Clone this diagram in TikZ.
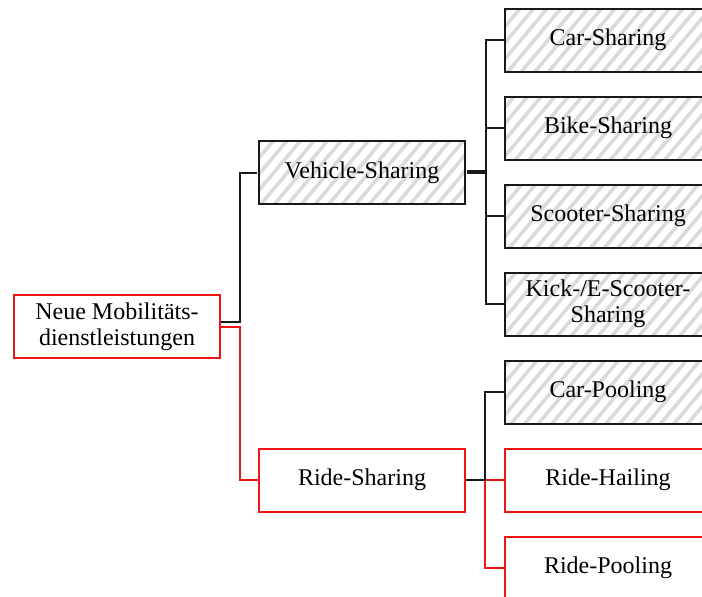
\documentclass[tikz,border=0pt]{standalone}
\usepackage{fontspec}
\setmainfont{Liberation Serif}
\usetikzlibrary{patterns.meta}
\definecolor{hatchgray}{RGB}{218,218,218}
\definecolor{redline}{RGB}{240,20,20}
\tikzset{
  box/.style={draw, line width=1pt, minimum width=103pt, minimum height=31.5pt,
    inner sep=1pt, align=center, font=\fontsize{12}{12.8}\selectfont},
  hatched/.style={box, draw=black!90,
    pattern={Lines[angle=50,distance=5.2pt,line width=1.8pt]}, pattern color=hatchgray},
  redbox/.style={box, draw=redline, fill=white},
  blackedge/.style={draw=black!90, line width=1pt},
  rededge/.style={draw=redline, line width=1pt},
}
\begin{document}
\begin{tikzpicture}[x=0.5pt,y=-0.5pt]
\useasboundingbox (0,0) rectangle (702,596);
\clip (0,0) rectangle (702,596);
\node[redbox] (root) at (117,326.5) {Neue Mobilitäts-\\dienstleistungen};
\node[hatched] (vs) at (362,172.5) {Vehicle-Sharing};
\node[redbox] (rs) at (362,480) {Ride-Sharing};
\node[hatched] (cs) at (608,40) {Car-Sharing};
\node[hatched] (bs) at (608,128) {Bike-Sharing};
\node[hatched] (ss) at (608,216) {Scooter-Sharing};
\node[hatched] (ks) at (608,304) {Kick-/E-Scooter-\\Sharing};
\node[hatched] (cp) at (608,392) {Car-Pooling};
\node[redbox] (rh) at (608,480) {Ride-Hailing};
\node[redbox] (rp) at (608,568) {Ride-Pooling};
% root edges
\draw[rededge] (root.east) -- ++(9.5pt,0) |- (rs.west);
\draw[blackedge] ([yshift=2.5pt]root.east) -- ++(9.5pt,0) |- (vs.west);
% vehicle sharing edges
\foreach \c in {cs,bs,ss,ks}{
  \draw[blackedge] (vs.east) -- ++(9.5pt,0) |- (\c.west);
}
\draw[blackedge] ([yshift=1pt]vs.east) -- ++(9.5pt,0);
% ride sharing edges
\draw[rededge] (rs.east) -- ++(9.5pt,0) |- (rh.west);
\draw[rededge] (rs.east) -- ++(9.5pt,0) |- (rp.west);
\draw[blackedge] (rs.east) -- ++(9.5pt,0) |- (cp.west);
\end{tikzpicture}
\end{document}
